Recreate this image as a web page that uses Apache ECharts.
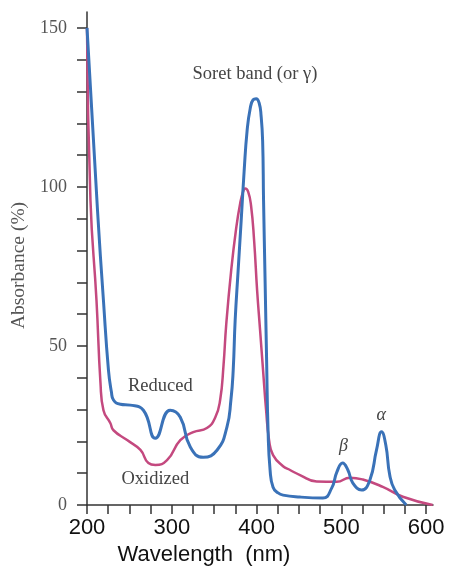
<!DOCTYPE html>
<html>
<head>
<meta charset="utf-8">
<script src="https://cdn.jsdelivr.net/npm/echarts@6/dist/echarts.min.js"></script>
<style>
html, body { margin: 0; padding: 0; background: #fff; }
#chart { width: 449px; height: 569px; }
</style>
</head>
<body>
<div id="chart"></div>
<script>
// wavelength (nm), absorbance (%)
let reducedData = [
    [200, 150], [212.4, 92.6], [219.4, 64.3], [225.3, 42.4], [228.8, 35.5], [231.2, 33],
    [239.4, 31.7], [251, 31.4], [266.5, 29.8], [280.6, 21], [298, 29.8], [310, 27.6],
    [321.8, 18.2], [337, 15], [353.5, 17.3], [365, 24.5], [369.7, 33], [372.4, 42.4],
    [374.7, 58], [378.2, 73.7], [381.8, 89.4], [385.3, 105], [388.8, 117.7], [392.4, 124.6],
    [395.9, 127.4], [399.4, 127.7], [403, 126.4], [405.3, 122.3], [407.1, 114.5], [408.2, 95.7],
    [410, 70.6], [411.8, 45.5], [413.5, 23.5], [415.9, 11], [419.4, 5.6], [425.3, 3.8],
    [431.2, 3.1], [451, 2.5], [478.2, 2.2], [488.5, 5.3], [494.7, 10.4], [501.4, 13.2],
    [507.6, 11], [513.5, 6.9], [523.8, 4.7], [533.5, 7.8], [541.4, 17.3], [547.3, 23],
    [552.4, 18.8], [557, 9.4], [562.9, 4.7], [576.5, 0]
];
let oxidizedData = [
    [200, 150], [204.1, 95.7], [211.2, 64.3], [215.9, 38.3], [219.4, 29.8],
    [227.6, 25.7], [231.2, 23.5], [247.3, 20.4], [263, 17.3], [272.4, 13.2], [280.6, 12.6],
    [294.4, 14.1], [310, 20.4], [325.3, 22.9], [341.4, 24.2], [351.2, 27.5], [357, 33],
    [361, 44], [364.1, 56.5], [370, 73.7], [375.9, 87], [380.6, 94.8], [384.1, 98.5],
    [386.5, 99.5], [390, 98.5], [393.5, 94], [397.1, 83], [400.6, 67.5], [404.1, 55],
    [407.6, 42.4], [411.2, 29.8], [414.7, 20.4], [419.4, 15.7], [431.2, 12.2], [439.4, 11],
    [451.2, 9.4], [470.8, 7.4], [494.4, 7.3], [510, 8.6], [525.3, 8], [548.8, 5.7],
    [572.4, 2.6], [607.6, 0]
];
let xTicks = [200, 225, 250, 275, 300, 325, 350, 375, 400, 425, 450, 475, 500, 525, 550, 575, 600];
let xLabels = [200, 300, 400, 500, 600];
let yTicks = [0, 10, 20, 30, 40, 50, 60, 70, 80, 90, 100, 110, 120, 130, 140, 150];
let yLabels = [0, 50, 100, 150];
// annotation text and the data point it sits at
let notes = [
    { text: 'Soret band (or γ)', at: [398, 135.5], italic: false },
    { text: 'Reduced', at: [286.5, 37.3], italic: false },
    { text: 'Oxidized', at: [280.6, 8.2], italic: false },
    { text: 'β', at: [502.4, 18.5], italic: true },
    { text: 'α', at: [547, 28.2], italic: true }
];

let serif = '"Liberation Serif", "DejaVu Serif", serif';
let sans = '"Liberation Sans", Arial, sans-serif';
let axisColor = '#333';

let chart = echarts.init(document.getElementById('chart'), null, { renderer: 'canvas' });
let option = {
    animation: false,
    backgroundColor: '#fff',
    grid: { left: 87, right: 16, top: 12, bottom: 64, containLabel: false, outerBoundsMode: 'none' },
    xAxis: {
        type: 'value',
        min: 200,
        max: 608,
        name: 'Wavelength  (nm)',
        nameLocation: 'middle',
        nameGap: 32,
        nameTextStyle: { fontFamily: sans, fontSize: 22, color: '#111', padding: [0, 112, 0, 0] },
        axisLine: { show: true, lineStyle: { color: axisColor, width: 1.5 } },
        axisTick: { show: true, inside: false, length: 9, customValues: xTicks, lineStyle: { color: axisColor, width: 1.5 } },
        axisLabel: { customValues: xLabels, fontFamily: sans, fontSize: 22, color: '#111', margin: 12 },
        splitLine: { show: false }
    },
    yAxis: {
        type: 'value',
        min: 0,
        max: 155,
        name: 'Absorbance (%)',
        nameLocation: 'middle',
        nameGap: 56,
        nameRotate: 90,
        nameTextStyle: { fontFamily: serif, fontSize: 19.5, color: '#555', padding: [0, 14, 0, 0] },
        axisLine: { show: true, lineStyle: { color: axisColor, width: 1.5 } },
        axisTick: { show: true, inside: false, length: 10, customValues: yTicks, lineStyle: { color: axisColor, width: 1.5 } },
        axisLabel: { customValues: yLabels, fontFamily: serif, fontSize: 18, color: '#555', margin: 20 },
        splitLine: { show: false }
    },
    series: [{
        name: 'Oxidized',
        type: 'line',
        data: oxidizedData,
        showSymbol: false,
        smooth: 0.5,
        lineStyle: { color: '#c4497f', width: 2.5 },
        z: 2
    }, {
        name: 'Reduced',
        type: 'line',
        data: reducedData,
        showSymbol: false,
        smooth: 0.5,
        lineStyle: { color: '#3a72b8', width: 3 },
        z: 3
    }]
};
chart.setOption(option);

let graphics = notes.map(function (note) {
    let p = chart.convertToPixel({ gridIndex: 0 }, note.at);
    return {
        type: 'text',
        x: p[0],
        y: p[1],
        style: {
            text: note.text,
            align: 'center',
            verticalAlign: 'middle',
            fontFamily: serif,
            fontSize: note.italic ? 18 : 18.5,
            fontStyle: note.italic ? 'italic' : 'normal',
            fill: '#444'
        }
    };
});
chart.setOption({ graphic: graphics });
</script>
</body>
</html>
